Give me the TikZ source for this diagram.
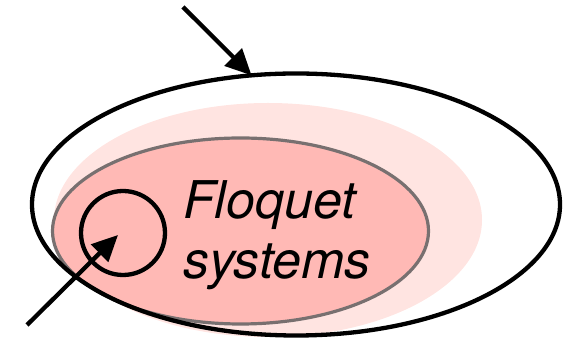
\documentclass[tikz,border=0pt]{standalone}
\usepackage{fontspec}
\newfontfamily\heros{TeX Gyre Heros}
\usetikzlibrary{shapes.geometric,arrows.meta}
\definecolor{lightpink}{RGB}{255,228,225}
\definecolor{darkpink}{RGB}{255,185,181}
\definecolor{rimgray}{RGB}{120,112,112}
\tikzset{
  blackline/.style={line width=4.3pt, draw=black},
  setshape/.style={ellipse, inner sep=0pt, outer sep=0pt},
  bigarrow/.style={line width=4.3pt, -{Triangle[length=26pt,width=24pt]}},
  label/.style={font=\heros\itshape\fontsize{52}{58}\selectfont, inner sep=0pt, anchor=base west},
}
\begin{document}
\begin{tikzpicture}[x=1pt,y=1pt]
\useasboundingbox (0,0) rectangle (575,344);
\node[setshape, fill=lightpink, minimum width=428pt, minimum height=234pt] (halo) at (268,124) {};
\node[setshape, fill=darkpink, draw=rimgray, line width=3.2pt, minimum width=376pt, minimum height=186pt] (floq) at (240.5,113) {};
\node[setshape, blackline, minimum width=528pt, minimum height=262pt] (outer) at (296,139.5) {};
\node[circle, blackline, inner sep=0pt, minimum size=84pt] (small) at (123,111) {};
\node[label] (fl) at (183,125) {Floquet};
\node[label] (sy) at (183,65) {systems};
\coordinate (topstart) at (183,337);
\coordinate (botstart) at (27,19);
\coordinate (bottip) at (118,109);
\draw[bigarrow] (topstart) -- (outer.109.7);
\draw[bigarrow] (botstart) -- (bottip);
\end{tikzpicture}
\end{document}
